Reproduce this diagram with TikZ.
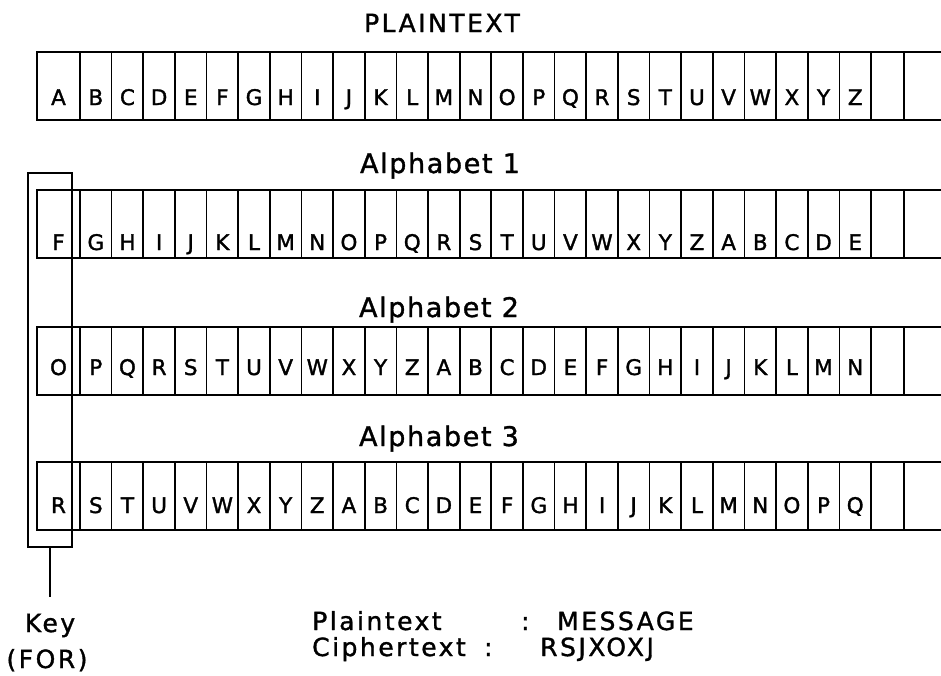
\documentclass[tikz,border=0pt]{standalone}
\usepackage{fontspec}
\setmainfont[FakeBold=1.5]{DejaVu Sans}
\newfontfamily\lblfont[LetterSpace=10,FakeBold=1.3]{DejaVu Sans}
\newfontfamily\alphfont[LetterSpace=6,FakeBold=1.3]{DejaVu Sans}
\begin{document}
\begin{tikzpicture}[x=1pt,y=-1pt,
  rowline/.style={draw=black, line width=2pt},
  sepline/.style={draw=black, line width=1.7pt},
  cellletter/.style={font=\fontsize{21.5}{21.5}\selectfont, inner sep=0pt, anchor=base},
  toptitle/.style={font=\lblfont\fontsize{25}{25}\selectfont, inner sep=0pt, anchor=base},
  alphtitle/.style={font=\alphfont\fontsize{27}{27}\selectfont, inner sep=0pt, anchor=base},
  btext/.style={font=\lblfont\fontsize{25}{25}\selectfont, inner sep=0pt, anchor=base west},
  keytext/.style={font=\lblfont\fontsize{25}{25}\selectfont, inner sep=0pt, anchor=base},
  keyframe/.style={draw=black, line width=1.7pt, minimum width=44pt, minimum height=374pt, inner sep=0pt},
]
\useasboundingbox (0,0) rectangle (941,675);
\fill[white] (0,0) rectangle (941,675);

% titles
\node[toptitle] (t0) at (442,32) {PLAINTEXT};
\node[alphtitle] (t1) at (440,173) {Alphabet 1};
\node[alphtitle] (t2) at (439,317) {Alphabet 2};
\node[alphtitle] (t3) at (439,446) {Alphabet 3};

% rows of cells
\foreach \r/\t/\ly/\lst in {
  1/52/105/{A,B,C,D,E,F,G,H,I,J,K,L,M,N,O,P,Q,R,S,T,U,V,W,X,Y,Z},
  2/190/250/{F,G,H,I,J,K,L,M,N,O,P,Q,R,S,T,U,V,W,X,Y,Z,A,B,C,D,E},
  3/327/375/{O,P,Q,R,S,T,U,V,W,X,Y,Z,A,B,C,D,E,F,G,H,I,J,K,L,M,N},
  4/462/513/{R,S,T,U,V,W,X,Y,Z,A,B,C,D,E,F,G,H,I,J,K,L,M,N,O,P,Q}}{
  \pgfmathsetmacro\bt{\t+68}
  \draw[rowline] (945,\t) -- (37,\t) -- (37,\bt) -- (945,\bt);
  \foreach \k in {0,...,25}{
    \pgfmathsetmacro\sx{80+31.64*\k}
    \draw[sepline] (\sx,\t) -- (\sx,\bt);
  }
  \draw[sepline] (904,\t) -- (904,\bt);
  \foreach \L [count=\i] in \lst {
    \pgfmathsetmacro\cx{\i==1 ? 58.5 : 80+31.64*(\i-1.5)}
    \node[cellletter] (r\r-\i) at (\cx,\ly) {\L};
  }
}

% key frame around first column
\node[keyframe] (keybox) at (50,360) {};
\coordinate (stemend) at (50,597);
\draw[sepline] (keybox.south) -- (stemend);
\node[keytext] (keylbl) at (50,632) {Key};
\node[keytext] (forlbl) at (47,668) {(FOR)};

% bottom text
\node[btext] (pl) at (312,630) {Plaintext};
\node[btext] (plc) at (521,630) {:};
\node[btext] (plv) at (557,630) {MESSAGE};
\node[btext] (ci) at (312,656) {Ciphertext};
\node[btext] (cic) at (484,656) {:};
\node[btext] (civ) at (540,656) {RSJXOXJ};
\end{tikzpicture}
\end{document}
